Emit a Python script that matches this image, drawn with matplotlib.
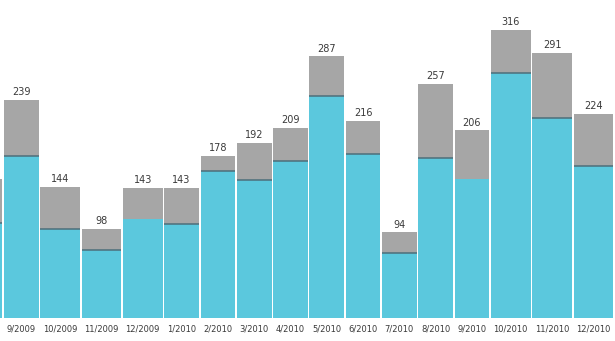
import matplotlib.pyplot as plt

months = ['8/2009', '9/2009', '10/2009', '11/2009', '12/2009', '1/2010', '2/2010',
          '3/2010', '4/2010', '5/2010', '6/2010', '7/2010', '8/2010', '9/2010',
          '10/2010', '11/2010', '12/2010']
totals = [153, 239, 144, 98, 143, 143, 178, 192, 209, 287, 216, 94, 257, 206, 316, 291, 224]
blue_part = [104, 178, 98, 75, 109, 103, 161, 151, 172, 244, 180, 71, 176, 153, 269, 220, 167]
no_line = ['12/2009', '9/2010']

blue = '#5bc8dd'
grey = '#a6a6a6'
dark = '#4d6e7a'

fig = plt.figure(figsize=(6.15, 3.41), dpi=100)
ax = fig.add_axes([0, 23 / 341, 1, 318 / 341])

# category slots are as wide as their label (longer labels -> wider bars)
slots = [5 * len(m) + 6.3 for m in months]
lefts = []
x = 4 - slots[0]
for s in slots:
    lefts.append(x)
    x += s
widths = [s - 1.6 for s in slots]

grey_part = [t - b for t, b in zip(totals, blue_part)]
ax.bar(lefts, blue_part, width=widths, align='edge', color=blue, linewidth=0)
ax.bar(lefts, grey_part, width=widths, bottom=blue_part, align='edge', color=grey, linewidth=0)

for m, l, w, b, t in zip(months, lefts, widths, blue_part, totals):
    if m not in no_line:
        ax.hlines(b, l, l + w, color=dark, linewidth=1.1)
    ax.annotate(str(t), (l + w / 2, t), xytext=(0, 2), textcoords='offset points',
                ha='center', va='bottom', fontsize=7, color='#3a3a3a',
                annotation_clip=True)

ax.set_xticks([l + w / 2 for l, w in zip(lefts, widths)])
ax.set_xticklabels(months, fontsize=6, color='#3a3a3a')
ax.tick_params(axis='x', length=0, pad=5)
ax.set_yticks([])
ax.set_xlim(0, 615)
ax.set_ylim(0, 349)
for sp in ax.spines.values():
    sp.set_visible(False)

fig.savefig('out.png', dpi=100)
